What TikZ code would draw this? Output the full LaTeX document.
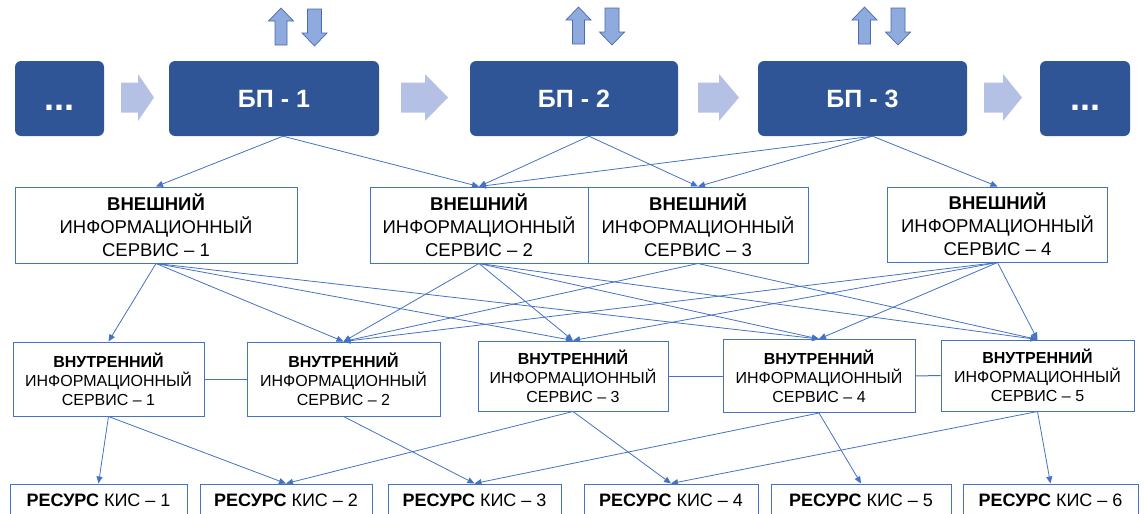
\documentclass[tikz,border=0pt]{standalone}
\usepackage{fontspec}
\setmainfont{Liberation Sans}
\usetikzlibrary{arrows.meta}
\definecolor{bpblue}{HTML}{2F5597}
\definecolor{lnblue}{HTML}{4472C4}
\definecolor{flowfill}{HTML}{B4C1E4}
\definecolor{udfill}{HTML}{8FAADC}
\definecolor{udline}{HTML}{4A6BB0}

\tikzset{
  proc/.style={fill=bpblue, rounded corners=6pt, text=white, inner sep=0pt,
    minimum height=75pt, font=\bfseries\fontsize{25}{30}\selectfont},
  more/.style={proc, font=\bfseries\fontsize{36}{40}\selectfont},
  ext/.style={draw=lnblue, line width=1pt, fill=white, align=center, inner sep=0pt,
    minimum height=76pt, font=\fontsize{18.5}{23}\selectfont},
  int/.style={draw=lnblue, line width=1pt, fill=white, align=center, inner sep=0pt,
    font=\fontsize{16}{19}\selectfont},
  res/.style={draw=lnblue, line width=1pt, fill=white, inner sep=0pt,
    minimum height=32pt, font=\fontsize{18}{22}\selectfont},
  link/.style={draw=lnblue, line width=0.8pt, -{Triangle[length=7pt,width=6pt]}},
  tie/.style={draw=lnblue, line width=1pt},
  flow/.style={fill=flowfill},
  ud/.style={fill=udfill, draw=udline, line width=0.7pt},
  uparrow/.pic={\path[ud] (-6,45) -- (-6,21) -- (-12.5,21) -- (0,8) -- (12.5,21) -- (6,21) -- (6,45) -- cycle;},
  downarrow/.pic={\path[ud] (-7,9) -- (7,9) -- (7,33) -- (12.5,33) -- (0,46) -- (-12.5,33) -- (-7,33) -- cycle;}
}

\begin{document}
\begin{tikzpicture}[x=1pt,y=-1pt]
\useasboundingbox (0,0) rectangle (1144,514);
\clip (0,0) rectangle (1144,514);

% business processes
\node[more, minimum width=89pt]  (d1)  at (59.5,98.5)  {\vphantom{Н}...};
\node[proc, minimum width=210pt] (bp1) at (274,98.5)   {БП - 1};
\node[proc, minimum width=208pt] (bp2) at (574,98.5)   {БП - 2};
\node[proc, minimum width=209pt] (bp3) at (862.5,98.5) {БП - 3};
\node[more, minimum width=90pt]  (d2)  at (1085,98.5)  {\vphantom{Н}...};

% flow arrows between processes
\fill[flow] (121,82.5) -- (138,82.5) -- (138,74) -- (154,97.5) -- (138,121) -- (138,112.5) -- (121,112.5) -- cycle;
\fill[flow] (401,82.5) -- (425,82.5) -- (425,74) -- (448,97.5) -- (425,121) -- (425,112.5) -- (401,112.5) -- cycle;
\fill[flow] (698,82.5) -- (719,82.5) -- (719,74) -- (739,97.5) -- (719,121) -- (719,112.5) -- (698,112.5) -- cycle;
\fill[flow] (984,82.5) -- (1003,82.5) -- (1003,74) -- (1022,97.5) -- (1003,121) -- (1003,112.5) -- (984,112.5) -- cycle;

% exchange arrows above processes
\pic at (281,0) {uparrow};   \pic at (314.5,0) {downarrow};
\pic at (578.5,-1) {uparrow}; \pic at (612,-1) {downarrow};
\pic at (864.5,-1) {uparrow}; \pic at (898,-1) {downarrow};

% external services
\node[ext, minimum width=282pt] (v1) at (156,225) {\textbf{ВНЕШНИЙ}\\ИНФОРМАЦИОННЫЙ\\СЕРВИС – 1};
\node[ext, minimum width=218pt] (v2) at (479,225) {\textbf{ВНЕШНИЙ}\\ИНФОРМАЦИОННЫЙ\\СЕРВИС – 2};
\node[ext, minimum width=220pt] (v3) at (698,225) {\textbf{ВНЕШНИЙ}\\ИНФОРМАЦИОННЫЙ\\СЕРВИС – 3};
\node[ext, minimum width=220pt, minimum height=75pt] (v4) at (997.5,224.5) {\textbf{ВНЕШНИЙ}\\ИНФОРМАЦИОННЫЙ\\СЕРВИС – 4};

% internal services
\node[int, minimum width=191pt, minimum height=74pt] (i1) at (108.5,379) {\textbf{ВНУТРЕННИЙ}\\ИНФОРМАЦИОННЫЙ\\СЕРВИС – 1};
\node[int, minimum width=193pt, minimum height=74pt] (i2) at (343.5,379) {\textbf{ВНУТРЕННИЙ}\\ИНФОРМАЦИОННЫЙ\\СЕРВИС – 2};
\node[int, minimum width=190pt, minimum height=70pt] (i3) at (573,376)   {\textbf{ВНУТРЕННИЙ}\\ИНФОРМАЦИОННЫЙ\\СЕРВИС – 3};
\node[int, minimum width=192pt, minimum height=73pt] (i4) at (819,376)   {\textbf{ВНУТРЕННИЙ}\\ИНФОРМАЦИОННЫЙ\\СЕРВИС – 4};
\node[int, minimum width=193pt, minimum height=71pt] (i5) at (1037.5,375.5) {\textbf{ВНУТРЕННИЙ}\\ИНФОРМАЦИОННЫЙ\\СЕРВИС – 5};

% resources
\node[res, minimum width=177pt] (r1) at (98.5,500)  {\textbf{РЕСУРС} КИС – 1};
\node[res, minimum width=172pt] (r2) at (286,500)   {\textbf{РЕСУРС} КИС – 2};
\node[res, minimum width=173pt] (r3) at (474.5,500) {\textbf{РЕСУРС} КИС – 3};
\node[res, minimum width=174pt] (r4) at (671,500)   {\textbf{РЕСУРС} КИС – 4};
\node[res, minimum width=180pt] (r5) at (861,500)   {\textbf{РЕСУРС} КИС – 5};
\node[res, minimum width=175pt] (r6) at (1050.5,500){\textbf{РЕСУРС} КИС – 6};

% connector origins under the processes
\coordinate (o1) at ([xshift=9pt]bp1.south);
\coordinate (o2) at ([xshift=15pt]bp2.south);
\coordinate (o3) at ([xshift=10pt]bp3.south);

% processes -> external services
\draw[link] (o1) -- (v1.north);
\draw[link] (o1) -- (v2.north);
\draw[link] (o2) -- (v2.north);
\draw[link] (o2) -- (v3.north);
\draw[link] (o3) -- (v2.north);
\draw[link] (o3) -- (v3.north);
\draw[link] (o3) -- (v4.north);

% external -> internal services
\draw[link] (v1.south) -- (i1.north);
\draw[link] (v1.south) -- (i2.north);
\draw[link] (v1.south) -- (i3.north);
\draw[link] (v1.south) -- (i4.north);
\draw[link] (v2.south) -- (i2.north);
\draw[link] (v2.south) -- (i3.north);
\draw[link] (v2.south) -- (i4.north);
\draw[link] (v2.south) -- (i5.north);
\draw[link] (v3.south) -- (i2.north);
\draw[link] (v3.south) -- (i5.north);
\draw[link] (v4.south) -- (i2.north);
\draw[link] (v4.south) -- (i3.north);
\draw[link] (v4.south) -- (i4.north);
\draw[link] (v4.south) -- (i5.north);

% links between internal services
\draw[tie] (i1.east) -- (i2.west);
\draw[tie] (i3.east) -- (i4.west);
\draw[tie] (i4.east) -- (i5.west);

% internal services -> resources
\draw[link] (i1.south) -- (r1.north);
\draw[link] (i1.south) -- (r2.north);
\draw[link] (i2.south) -- (r3.north);
\draw[link] (i3.south) -- (r2.north);
\draw[link] (i3.south) -- (r4.north);
\draw[link] (i4.south) -- (r3.north);
\draw[link] (i4.south) -- (r5.north);
\draw[link] (i5.south) -- (r4.north);
\draw[link] (i5.south) -- (r6.north);
\end{tikzpicture}
\end{document}
